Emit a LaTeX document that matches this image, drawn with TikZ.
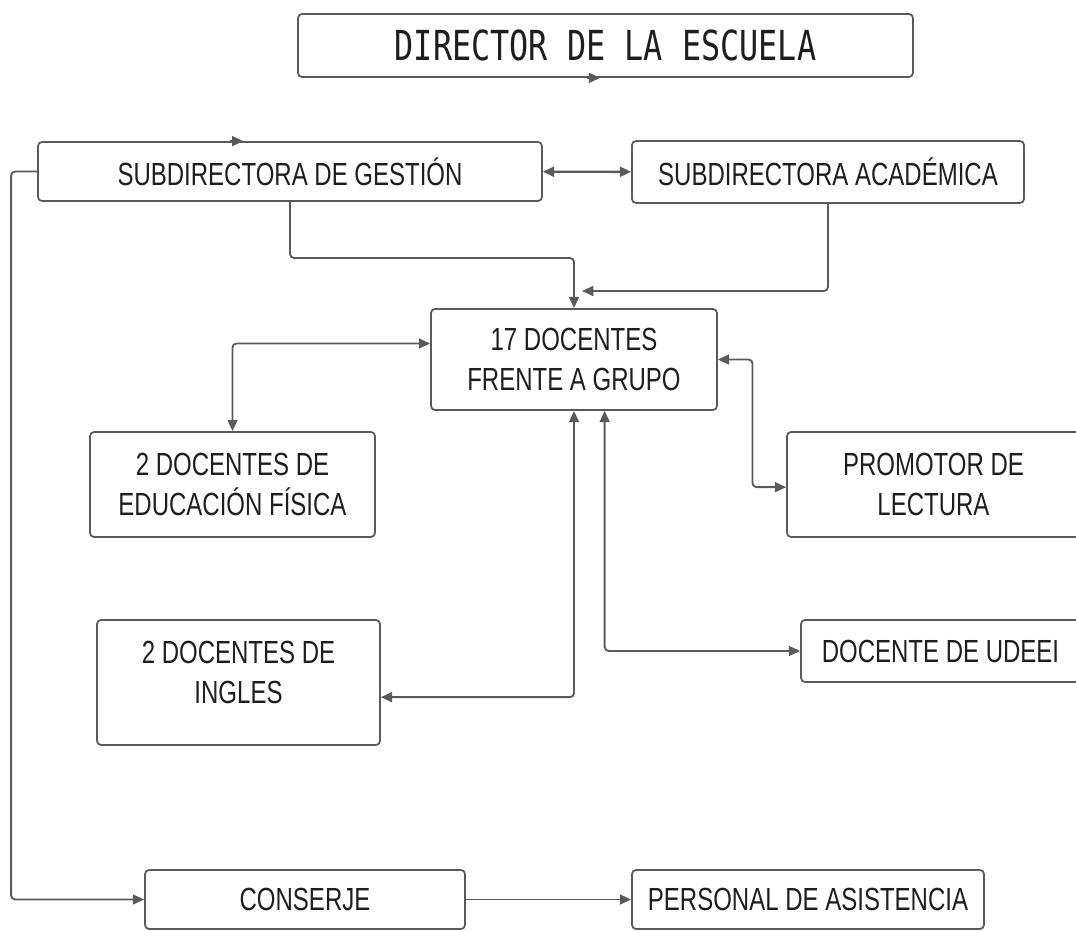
\documentclass[tikz,border=0pt]{standalone}
\usepackage{fontspec}
\setmainfont[FakeStretch=0.75]{Liberation Sans}
\newfontfamily\titlefont[FakeStretch=0.77]{DejaVu Sans Mono}
\usepackage{xcolor}
\usepackage{tikz}
\usetikzlibrary{arrows.meta,positioning,calc}
\definecolor{linegray}{HTML}{5A5A5A}
\definecolor{inkgray}{HTML}{1E1E1E}

\begin{document}
\begin{tikzpicture}[x=0.75pt,y=-0.75pt,
  box/.style={draw=linegray, line width=1.3pt, rounded corners=3pt, fill=white,
    align=center, text=inkgray, inner sep=0pt,
    font=\fontsize{24}{30}\selectfont},
  link/.style={draw=linegray, line width=1.4pt, rounded corners=3pt,
    arrows={-Triangle[length=8.5pt,width=7.5pt]}},
  both/.style={link, arrows={Triangle[length=8.5pt,width=7.5pt]-Triangle[length=8.5pt,width=7.5pt]}}]
% Frame
\useasboundingbox (0,0) rectangle (1076,931);

% Boxes
\node[box, minimum width=461.25pt, minimum height=47.25pt,
  font=\titlefont\fontsize{31}{36}\selectfont] (director) at (605.5,45.5) {DIRECTOR DE LA ESCUELA};
\node[box, minimum width=378pt, minimum height=44.25pt] (gestion) at (290,171.5) {SUBDIRECTORA DE GESTIÓN};
\node[box, minimum width=294pt, minimum height=46.5pt] (academica) at (828,172) {SUBDIRECTORA ACADÉMICA};
\node[box, minimum width=214.5pt, minimum height=75.75pt] (docentes) at (574,359.5) {17 DOCENTES\\FRENTE A GRUPO};
\node[box, minimum width=213.75pt, minimum height=78.75pt] (fisica) at (232.5,484.5) {2 DOCENTES DE\\EDUCACIÓN FÍSICA};
\node[box, minimum width=219.75pt, minimum height=78.75pt] (promotor) at (933.5,484.5) {PROMOTOR DE\\LECTURA};
\node[box, minimum width=212.25pt, minimum height=93.75pt] (ingles) at (238.5,682.5) {2 DOCENTES DE\\INGLES\\[-15pt]};
\node[box, minimum width=209.25pt, minimum height=46.5pt] (udeei) at (940.5,651) {DOCENTE DE UDEEI};
\node[box, minimum width=240pt, minimum height=44.25pt] (conserje) at (305,899.5) {CONSERJE};
\node[box, minimum width=264pt, minimum height=44.25pt] (personal) at (808,899.5) {PERSONAL DE ASISTENCIA};

% Stray tips on the borders
\draw[link] ([xshift=-14pt]director.south) -- ([xshift=-4pt]director.south);
\draw[link] ([xshift=-45pt]gestion.north) -- ([xshift=-35pt]gestion.north);

% Subdirectoras
\draw[both, line width=1.8pt] (gestion) -- (academica);
\coordinate (jg) at (290,258);
\coordinate (ja) at (582,291);
\draw[link] (gestion.south) -- (jg) -| (docentes.north);
\draw[link] (academica.south) |- (ja);

% Around the teachers
\draw[both] ([yshift=12pt]docentes.west) -| (fisica.north);
\draw[both] (docentes.east) -- ++(26pt,0) |- ([yshift=-2pt]promotor.west);
\draw[both] (docentes.south) |- ([yshift=-11pt]ingles.east);
\draw[both] ([xshift=23pt]docentes.south) |- (udeei.west);

% Left side
\draw[link] (gestion.west) -- ++(-19.5pt,0) |- (conserje.west);
\draw[link] (conserje) -- (personal);

\end{tikzpicture}
\end{document}
